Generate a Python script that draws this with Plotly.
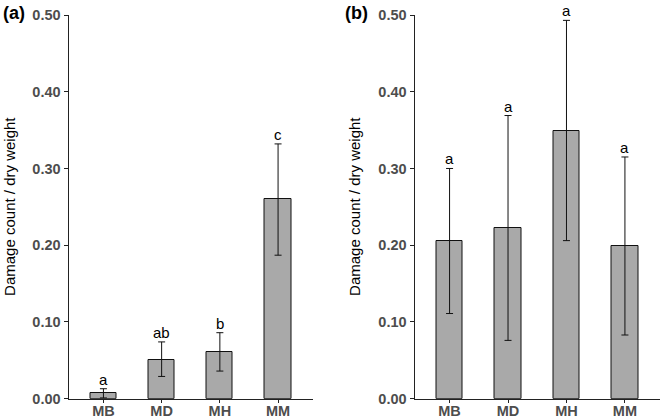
import plotly.graph_objects as go

categories = ["MB", "MD", "MH", "MM"]

# Panel (a)
mean_a = [0.007, 0.051, 0.061, 0.260]
upper_a = [0.013, 0.074, 0.086, 0.332]
lower_a = [0.001, 0.029, 0.036, 0.187]
letters_a = ["a", "ab", "b", "c"]

# Panel (b)
mean_b = [0.206, 0.223, 0.349, 0.199]
upper_b = [0.300, 0.369, 0.493, 0.315]
lower_b = [0.111, 0.076, 0.206, 0.083]
letters_b = ["a", "a", "a", "a"]

y_ticks = [0.0, 0.1, 0.2, 0.3, 0.4, 0.5]
y_ticklabels = ["0.00", "0.10", "0.20", "0.30", "0.40", "0.50"]
y_title = "Damage count / dry weight"
panel_labels = ["(a)", "(b)"]

W, H = 660, 419
FONT = "Liberation Sans, Arial, sans-serif"
AX = "#222222"
TICKC = "#4D4D4D"

fig = go.Figure()

def add_panel(mean, upper, lower, xa, ya):
    fig.add_trace(go.Bar(
        x=categories, y=mean, xaxis=xa, yaxis=ya, width=0.45,
        marker=dict(color="#A9A9A9", line=dict(color="#111111", width=1)),
        error_y=dict(type="data", symmetric=False,
                     array=[u - m for u, m in zip(upper, mean)],
                     arrayminus=[m - l for m, l in zip(mean, lower)],
                     color="#111111", thickness=1, width=3.5),
        showlegend=False, hoverinfo="skip"))

add_panel(mean_a, upper_a, lower_a, "x", "y")
add_panel(mean_b, upper_b, lower_b, "x2", "y2")

ydom = [(H - 398.7) / H, (H - 15) / H]
xaxis_common = dict(
    type="category", range=[-0.6, 3.6], showgrid=False, zeroline=False,
    showline=True, linecolor=AX, linewidth=1,
    ticks="outside", ticklen=3, tickcolor=AX, tickwidth=1,
    ticklabelstandoff=-4,
    tickfont=dict(family=FONT, size=14.5, color=TICKC, weight="bold"),
    fixedrange=True)
yaxis_common = dict(
    range=[0, 0.5], showgrid=False, zeroline=False,
    showline=True, linecolor=AX, linewidth=1,
    ticks="outside", ticklen=4, tickcolor=AX, tickwidth=1,
    tickvals=y_ticks, ticktext=y_ticklabels,
    tickfont=dict(family=FONT, size=14.5, color=TICKC, weight="bold"),
    domain=ydom, fixedrange=True)

fig.update_layout(
    width=W, height=H,
    margin=dict(l=0, r=0, t=0, b=0, autoexpand=False),
    paper_bgcolor="white", plot_bgcolor="white",
    bargap=0,
    xaxis=dict(xaxis_common, domain=[68.5 / W, 313 / W], anchor="y"),
    yaxis=dict(yaxis_common, anchor="x"),
    xaxis2=dict(xaxis_common, domain=[414.5 / W, 1.0], anchor="y2"),
    yaxis2=dict(yaxis_common, anchor="x2"),
)

# letters above error bars
for xa, ya, up, lets in [("x", "y", upper_a, letters_a), ("x2", "y2", upper_b, letters_b)]:
    for c, u, t in zip(categories, up, lets):
        fig.add_annotation(x=c, y=u, xref=xa, yref=ya, text=t, showarrow=False,
                           yanchor="bottom", yshift=-1,
                           font=dict(family=FONT, size=15, color="black"))

# y axis titles
for xc in [10 / W, 355 / W]:
    fig.add_annotation(x=xc, y=(H - 206.9) / H, xref="paper", yref="paper",
                       text=y_title, textangle=-90, showarrow=False,
                       xanchor="center", yanchor="middle",
                       font=dict(family=FONT, size=15, color="black"))

# panel labels
for xl, lab in zip([1 / W, 343 / W], panel_labels):
    fig.add_annotation(x=xl, y=(H - 13.5) / H, xref="paper", yref="paper",
                       text=lab, showarrow=False, xanchor="left", yanchor="middle",
                       font=dict(family=FONT, size=18, color="black", weight="bold"))

fig.write_html("out.html", config={"displayModeBar": False},
               post_script="document.body.style.margin='0';document.body.style.overflow='hidden';")
